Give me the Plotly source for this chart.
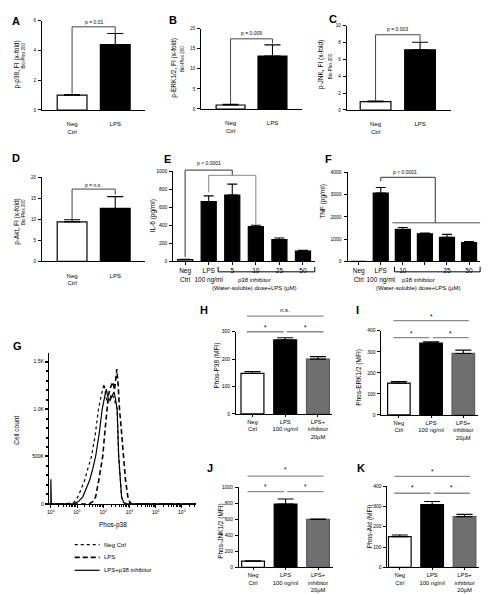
import plotly.graph_objects as go

W, H = 496, 594
FONT = "Liberation Sans, Arial, sans-serif"

# ---------------- data ----------------
fold_categories = ["Neg<br>Ctrl", "LPS"]
p38_fold = [1.0, 4.4]
p38_fold_err = [0.04, 0.75]
erk_fold = [1.0, 13.2]
erk_fold_err = [0.15, 2.8]
jnk_fold = [1.0, 7.15]
jnk_fold_err = [0.05, 0.9]
akt_fold = [9.4, 12.6]
akt_fold_err = [0.5, 2.8]
fold_pvalues = ["p = 0.01", "p = 0.009", "p = 0.003", "p = n.s."]

dose_categories = ["Neg<br>Ctrl", "LPS<br>100 ng/ml", "5", "10", "25", "50"]
tnf_tick_labels = ["Neg<br>Ctrl", "LPS<br>100 ng/ml", "10", " ", "25", "50"]
il6_values = [20, 663, 736, 388, 242, 116]
il6_err = [3, 65, 122, 14, 19, 7]
tnf_values = [0, 3070, 1436, 1244, 1080, 844]
tnf_err = [0, 250, 90, 30, 133, 45]

mfi_categories = ["Neg<br>Ctrl", "LPS<br>100 ng/ml", "LPS+<br>inhibitor<br>20µM"]
phos_p38 = [148, 270, 200]
phos_p38_err = [7, 8, 9]
phos_erk = [151, 341, 292]
phos_erk_err = [8, 7, 16]
phos_jnk = [77, 789, 598]
phos_jnk_err = [3, 64, 4]
phos_akt = [151, 309, 250]
phos_akt_err = [8, 15, 11]

# flow histogram (log10 of Phos-p38 intensity, cell count)
neg_log = [-0.07, 0.6, 0.9, 1.03, 1.15, 1.29, 1.4, 1.55, 1.68, 1.82, 1.93, 2.03, 2.09, 2.16,
           2.24, 2.32, 2.4, 2.47, 2.53, 2.59, 2.65, 2.7, 2.78, 2.9, 5.55]
neg_count = [0, 0, 20, 75, 150, 250, 360, 500, 700, 1000, 1150, 1265, 1150, 1060,
             1100, 1160, 1120, 1050, 1000, 500, 250, 75, 15, 0, 0]
lps_log = [-0.07, 1.45, 1.6, 1.71, 1.83, 1.98, 2.06, 2.13, 2.2, 2.28, 2.37, 2.43, 2.48,
           2.52, 2.57, 2.62, 2.7, 2.78, 2.85, 2.94, 3.02, 3.1, 5.55]
lps_count = [0, 0, 25, 75, 250, 500, 750, 1000, 1150, 1230, 1285, 1200, 1330,
             1420, 1250, 1000, 750, 500, 250, 75, 15, 0, 0]
inh_log = [-0.07, 0.0, 0.0, 0.02, 0.85, 1.05, 1.22, 1.35, 1.48, 1.6, 1.71, 1.85, 1.96, 2.05,
           2.12, 2.18, 2.26, 2.34, 2.41, 2.47, 2.53, 2.59, 2.65, 2.7, 2.78, 2.9, 5.55]
inh_count = [0, 0, 260, 0, 0, 25, 75, 160, 250, 370, 500, 750, 1000, 1120,
             1210, 1120, 1090, 1140, 1180, 1100, 1000, 500, 250, 75, 15, 0, 0]
hist_names = ["Neg Ctrl", "LPS", "LPS+p38 inhibitor"]

# ---------------- layout geometry (pixels) ----------------
PANELS = {
    'A': dict(n=1, xpx=(32, 136), ypx=(10, 100), xr=(-0.7, 1.7), yr=(0, 6)),
    'B': dict(n=2, xpx=(192, 293), ypx=(18, 99), xr=(-0.7, 1.7), yr=(0, 20)),
    'C': dict(n=3, xpx=(338, 443), ypx=(15, 100), xr=(-0.65, 1.7), yr=(0, 10)),
    'D': dict(n=4, xpx=(32, 136), ypx=(168, 253), xr=(-0.7, 1.7), yr=(0, 20)),
    'E': dict(n=5, xpx=(164, 306), ypx=(162, 253), xr=(-0.5, 5.5), yr=(0, 1000)),
    'F': dict(n=6, xpx=(339, 472), ypx=(163, 253), xr=(-0.5, 5.5), yr=(0, 4000)),
    'G': dict(n=7, xpx=(39, 187), ypx=(345, 498), xr=(-0.076, 5.55), yr=(0, 1595)),
    'H': dict(n=8, xpx=(227, 323), ypx=(324, 407), xr=(-0.5, 2.42), yr=(0, 300)),
    'I': dict(n=9, xpx=(373, 470), ypx=(323, 408), xr=(-0.54, 2.46), yr=(0, 400)),
    'J': dict(n=10, xpx=(230, 324), ypx=(481, 562), xr=(-0.43, 2.45), yr=(0, 1000)),
    'K': dict(n=11, xpx=(379, 471), ypx=(480, 562), xr=(-0.38, 2.45), yr=(0, 400)),
}


def ids(n):
    s = '' if n == 1 else str(n)
    return 'xaxis' + s, 'yaxis' + s, 'x' + s, 'y' + s


def P(name, xv, yv):
    p = PANELS[name]
    (xa, xb), (yt, yb) = p['xpx'], p['ypx']
    (r0, r1), (s0, s1) = p['xr'], p['yr']
    px = xa + (xv - r0) / (r1 - r0) * (xb - xa)
    py = yb - (yv - s0) / (s1 - s0) * (yb - yt)
    return px / W, 1 - py / H


fig = go.Figure()
layout = dict(width=W, height=H, margin=dict(l=0, r=0, t=0, b=0),
              paper_bgcolor='white', plot_bgcolor='white', showlegend=False,
              font=dict(family=FONT, color='black'))
shapes = []
annotations = []


def line(name, x0, y0, x1, y1, color='#444', width=1.0, dash=None):
    a, b = P(name, x0, y0)
    c, d = P(name, x1, y1)
    ln = dict(color=color, width=width)
    if dash:
        ln['dash'] = dash
    shapes.append(dict(type='line', xref='paper', yref='paper', x0=a, y0=b, x1=c, y1=d, line=ln))


def bracket(name, xl, xr, ytop, ylb, yrb, color='#444', width=1.0):
    line(name, xl, ytop, xr, ytop, color, width)
    line(name, xl, ytop, xl, ylb, color, width)
    line(name, xr, ytop, xr, yrb, color, width)


def dtext(name, x, y, s, size=5.5):
    a, b = P(name, x, y)
    annotations.append(dict(xref='paper', yref='paper', x=a, y=b, text=s, showarrow=False,
                            font=dict(size=size, family=FONT, color='black'),
                            xanchor='center', yanchor='middle'))


def ptext(px, py, s, size=6.5, angle=0, bold=False, xanchor='center'):
    annotations.append(dict(xref='paper', yref='paper', x=px / W, y=1 - py / H,
                            text=('<b>%s</b>' % s) if bold else s, showarrow=False,
                            textangle=angle,
                            font=dict(size=size, family=FONT, color='black'),
                            xanchor=xanchor, yanchor='middle'))


def setup_axes(name, tickvals, ticktext, yticks, xtickfont=6, xticks='', ytickfont=5,
               standoff=2, ticklen=3):
    p = PANELS[name]
    xa, ya, xr, yr = ids(p['n'])
    (x0, x1), (yt, yb) = p['xpx'], p['ypx']
    layout[xa] = dict(domain=[x0 / W, x1 / W], range=list(p['xr']), anchor=yr,
                      showline=True, linecolor='black', linewidth=1, showgrid=False,
                      zeroline=False, tickmode='array', tickvals=tickvals, ticktext=ticktext,
                      tickangle=0, ticks=xticks, ticklen=ticklen, tickwidth=1, tickcolor='black',
                      ticklabelstandoff=standoff,
                      tickfont=dict(size=xtickfont, family=FONT, color='black'),
                      fixedrange=True)
    layout[ya] = dict(domain=[1 - yb / H, 1 - yt / H], range=list(p['yr']), anchor=xr,
                      showline=True, linecolor='black', linewidth=1, showgrid=False,
                      zeroline=False, tickmode='array', tickvals=yticks,
                      ticktext=[str(v) for v in yticks],
                      ticks='outside', ticklen=3, tickwidth=1, tickcolor='black',
                      ticklabelstandoff=1,
                      tickfont=dict(size=ytickfont, family=FONT, color='black'),
                      fixedrange=True)


def bars(name, values, errs, colors, linecolors, width, capw):
    p = PANELS[name]
    _, _, xr, yr = ids(p['n'])
    fig.add_trace(go.Bar(x=list(range(len(values))), y=values, width=width,
                         marker=dict(color=colors, line=dict(color=linecolors, width=1.2)),
                         error_y=dict(type='data', symmetric=False, array=errs,
                                      arrayminus=[0] * len(errs), color='black',
                                      thickness=1.1, width=capw),
                         xaxis=xr, yaxis=yr))


# ---- panels A-D ----
fold_sets = [('A', p38_fold, p38_fold_err, [0, 2, 4, 6]),
             ('B', erk_fold, erk_fold_err, [0, 5, 10, 15, 20]),
             ('C', jnk_fold, jnk_fold_err, [0, 2, 4, 6, 8, 10]),
             ('D', akt_fold, akt_fold_err, [0, 5, 10, 15, 20])]
for name, vals, errs, yt in fold_sets:
    setup_axes(name, [0, 1], fold_categories, yt, xtickfont=6, standoff=8, ytickfont=4.5)
    bars(name, vals, errs, ['white', 'black'], ['black', 'black'], 0.69, 8)

# brackets A-D (data coordinates)
bracket('A', 0, 1, 5.6, p38_fold[0] + 0.05, p38_fold[1] + p38_fold_err[1] + 0.02)
dtext('A', 0.5, 5.93, fold_pvalues[0], 5)
bracket('B', 0, 1, 17.5, erk_fold[0] + 0.2, erk_fold[1] + erk_fold_err[1] + 0.3)
dtext('B', 0.5, 19.0, fold_pvalues[1], 5)
bracket('C', 0, 1, 8.94, jnk_fold[0] + 0.05, jnk_fold[1] + jnk_fold_err[1] + 0.1)
dtext('C', 0.5, 9.6, fold_pvalues[2], 5)
bracket('D', 0, 1, 17.2, akt_fold[0] + akt_fold_err[0] + 0.2, akt_fold[1] + akt_fold_err[1] + 0.5)
dtext('D', 0.5, 18.2, fold_pvalues[3], 5)

# ---- panel E ----
setup_axes('E', list(range(6)), dose_categories, [0, 200, 400, 600, 800, 1000],
           xtickfont=6.5, xticks='outside', standoff=0, ytickfont=5)
bars('E', il6_values, il6_err, ['white'] + ['black'] * 5, ['black'] * 6, 0.64, 5)
bracket('E', 0, 2, 1014, il6_values[0] + 30, 956, color='#333')
bracket('E', 1, 3, 956, il6_values[1] + il6_err[1] + 40, il6_values[3] + il6_err[3] + 5,
        color='#888')
dtext('E', 1.0, 1095, "p < 0.0001", 5)

# ---- panel F ----
setup_axes('F', list(range(6)), tnf_tick_labels, [0, 1000, 2000, 3000, 4000],
           xtickfont=6.5, xticks='outside', standoff=0, ytickfont=5)
bars('F', tnf_values, tnf_err, ['white'] + ['black'] * 5, ['black'] * 6, 0.68, 5)
line('F', 1.53, 1733, 5.5, 1733, color='#888', width=1.5)
bracket('F', 1, 3.47, 3778, tnf_values[1] + tnf_err[1] + 280, 1733, color='#333')
dtext('F', 2.1, 4000, "p < 0.0001", 5)

# dose brackets below E and F (pixel-based offsets converted to each axis)
for name, xl in (('E', 1.4), ('F', 1.62)):
    p = PANELS[name]
    upp = (p['yr'][1] - p['yr'][0]) / (p['ypx'][1] - p['ypx'][0])  # units per pixel
    ylo, yhi = -10.5 * upp, -5.5 * upp
    line(name, xl, ylo, 5.5, ylo, color='black', width=1)
    line(name, xl, ylo, xl, yhi, color='black', width=1)
    line(name, 5.5, ylo, 5.5, yhi, color='black', width=1)
ptext(245, 272, "p38 inhibitor", 6)
ptext(245, 280, "(Water-soluble) dose+LPS (µM)", 6)
ptext(410, 272, "p38 inhibitor", 6)
ptext(410, 280, "(Water-soluble) dose+LPS (µM)", 6)

# ---- panel G (flow histogram) ----
gp = PANELS['G']
gxa, gya, gxr, gyr = ids(gp['n'])
minor_x = [m * 10 ** d for d in range(0, 6) for m in range(2, 10) if m * 10 ** d < 10 ** 5.55]
layout[gxa] = dict(domain=[gp['xpx'][0] / W, gp['xpx'][1] / W], range=list(gp['xr']),
                   type='log', anchor=gyr, showline=True, linecolor='black', linewidth=1,
                   showgrid=False, zeroline=False, tickmode='array',
                   tickvals=[1, 10, 100, 1000, 10000, 100000],
                   ticktext=['10<sup>%d</sup>' % k for k in range(6)], tickangle=0,
                   ticks='outside', ticklen=3, tickcolor='black',
                   minor=dict(tickmode='array', tickvals=minor_x, ticks='outside', ticklen=2,
                              tickcolor='black'),
                   tickfont=dict(size=5, family=FONT, color='black'), fixedrange=True)
layout[gya] = dict(domain=[1 - gp['ypx'][1] / H, 1 - gp['ypx'][0] / H], range=list(gp['yr']),
                   anchor=gxr, showline=True, linecolor='black', linewidth=1, showgrid=False,
                   zeroline=False, tickmode='array', tickvals=[0, 500, 1000, 1500],
                   ticktext=['0', '500K', '1.0K', '1.5K'], ticks='outside', ticklen=3,
                   tickwidth=1.5, tickcolor='black',
                   minor=dict(tickmode='linear', tick0=0, dtick=100, ticks='outside',
                              ticklen=2, tickcolor='black'),
                   tickfont=dict(size=5, family=FONT, color='black'), fixedrange=True)
hist_styles = [(neg_log, neg_count, 'dot', 1.2), (lps_log, lps_count, '5px,3px', 1.6),
               (inh_log, inh_count, 'solid', 1.2)]
for (lx, cnt, dash, wd), nm in zip(hist_styles, hist_names):
    fig.add_trace(go.Scatter(x=[10 ** v for v in lx], y=cnt, mode='lines', name=nm,
                             line=dict(color='black', dash=dash, width=wd),
                             xaxis=gxr, yaxis=gyr))
ptext(103, 519, "Phos-p38", 6.5)
ptext(7, 423, "Cell count", 6.5, angle=-90)
for (lx, cnt, dash, wd), nm, ly in zip(hist_styles, hist_names, (539, 552, 565)):
    shapes.append(dict(type='line', xref='paper', yref='paper', x0=65 / W, x1=90 / W,
                       y0=1 - ly / H, y1=1 - ly / H,
                       line=dict(color='black', dash=dash, width=wd)))
    ptext(92, ly, nm, 6, xanchor='left')

# ---- panels H-K ----
mfi_sets = [('H', phos_p38, phos_p38_err, [0, 100, 200, 300]),
            ('I', phos_erk, phos_erk_err, [0, 100, 200, 300, 400]),
            ('J', phos_jnk, phos_jnk_err, [0, 200, 400, 600, 800, 1000]),
            ('K', phos_akt, phos_akt_err, [0, 100, 200, 300, 400])]
for name, vals, errs, yt in mfi_sets:
    setup_axes(name, [0, 1, 2], mfi_categories, yt, xtickfont=5.8, xticks='outside',
               standoff=0, ytickfont=5, ticklen=2)
    bars(name, vals, errs, ['white', 'black', '#6f6f6f'], ['black', 'black', '#5a5a5a'], 0.7, 8)

sig = {  # name: (top line, top label, lower line, lower label, top text)
    'H': (357, 380, 300, 314, "n.s."),
    'I': (448, 470, 367, 386, "*"),
    'J': (1138, 1220, 943, 1012, "*"),
    'K': (448, 472, 365, 395, "*"),
}
for name, (yt_, yl_, ylo, ylol, ttxt) in sig.items():
    line(name, -0.17, yt_, 2.17, yt_, color='#8a8a8a', width=1.3)
    line(name, -0.17, ylo, 0.95, ylo, color='#8a8a8a', width=1.3)
    line(name, 1.05, ylo, 2.17, ylo, color='#8a8a8a', width=1.3)
    dtext(name, 1.0, yl_, ttxt, 6 if ttxt == 'n.s.' else 6.5)
    dtext(name, 0.39, ylol, "*", 6.5)
    dtext(name, 1.61, ylol, "*", 6.5)

# ---- axis titles ----
ptext(7, 54, "p-p38, FI (x-fold)", 6.5, angle=-90)
ptext(14, 45, "Bio-Plex 200", 4.5, angle=-90)
ptext(165, 57, "p-ERK1/2, FI (x-fold)", 6.5, angle=-90)
ptext(173, 48, "Bio-Plex 200", 4.5, angle=-90)
ptext(313, 54, "p-JNK, FI (x-fold)", 6.5, angle=-90)
ptext(322, 56, "Bio-Plex 200", 4.5, angle=-90)
ptext(7, 212, "p-Akt, FI (x-fold)", 6.5, angle=-90)
ptext(14, 203, "Bio-Plex 200", 4.5, angle=-90)
ptext(143, 207, "IL-6 (pg/ml)", 6.5, angle=-90)
ptext(314, 192, "TNF (pg/ml)", 6.5, angle=-90)
ptext(208, 358, "Phos-P38 (MFI)", 6.5, angle=-90)
ptext(351, 370, "Phos-ERK1/2 (MFI)", 6.5, angle=-90)
ptext(212, 525, "Phos-JNK1/2 (MFI)", 6.5, angle=-90)
ptext(361, 521, "Phos-Akt (MFI)", 6.5, angle=-90)

# ---- panel letters ----
for letter, (lx, ly) in {'A': (6, 10), 'B': (164, 9), 'C': (324, 8), 'D': (6, 149),
                         'E': (158, 150), 'F': (320, 150), 'G': (8, 338), 'H': (195, 302),
                         'I': (349, 302), 'J': (201, 462), 'K': (352, 462)}.items():
    ptext(lx, ly, letter, 11, bold=True)

layout['shapes'] = shapes
layout['annotations'] = annotations
fig.update_layout(**layout)
fig.write_html("out.html")
